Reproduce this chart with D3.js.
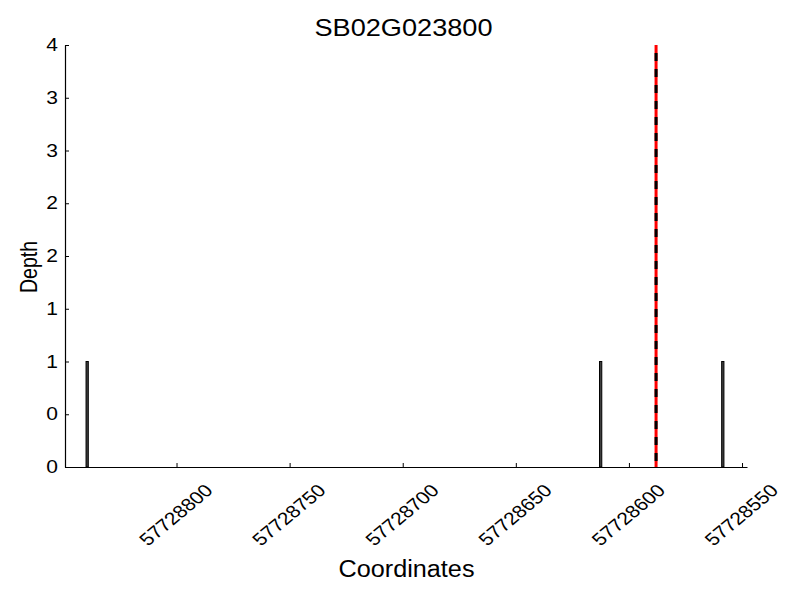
<!DOCTYPE html>
<html>
<head>
<meta charset="utf-8">
<script src="https://cdn.jsdelivr.net/npm/d3@7"></script>
<style>
  body { margin: 0; background: #fff; }
  text { font-family: "Liberation Sans", Arial, sans-serif; fill: #000; }
</style>
</head>
<body>
<svg id="chart" width="800" height="600"></svg>
<script>
const title = "SB02G023800";
const xLabel = "Coordinates";
const yLabel = "Depth";
const xDomain = [57728849.3, 57728547.8];
const yDomain = [0, 4];
const barStarts = [57728839, 57728612, 57728558];
const barDepths = [1, 1, 1];
const barWidthUnits = 1;
const markerPos = [57728588];
const xTicks = [57728800, 57728750, 57728700, 57728650, 57728600, 57728550];
const yTicks = [0, 0.5, 1, 1.5, 2, 2.5, 3, 3.5, 4];
const yTickLabels = ["0", "0", "1", "1", "2", "2", "3", "3", "4"];

const svg = d3.select("#chart");
const L = 65, R = 747, T = 45, B = 467;
const SX = 1.2; // horizontal stretch of the text glyphs
const x = d3.scaleLinear().domain(xDomain).range([L, R]);
const y = d3.scaleLinear().domain(yDomain).range([B, T]);

// bars
svg.append("g").selectAll("rect")
  .data(barStarts.map((s, i) => ({ s, d: barDepths[i] })))
  .join("rect")
  .attr("x", d => Math.min(x(d.s), x(d.s + barWidthUnits)))
  .attr("width", d => Math.abs(x(d.s + barWidthUnits) - x(d.s)))
  .attr("y", d => y(d.d))
  .attr("height", d => y(0) - y(d.d))
  .attr("fill", "#404040")
  .attr("stroke", "#000")
  .attr("stroke-width", 1);

// marker line: red with black dashes
const mk = svg.append("g");
markerPos.forEach(p => {
  mk.append("line").attr("x1", x(p)).attr("x2", x(p)).attr("y1", y(4)).attr("y2", y(0))
    .attr("stroke", "#ff0000").attr("stroke-width", 3);
  mk.append("line").attr("x1", x(p)).attr("x2", x(p)).attr("y1", y(4)).attr("y2", y(0))
    .attr("stroke", "#000").attr("stroke-width", 3)
    .attr("stroke-dasharray", "8,8").attr("stroke-dashoffset", 8);
});

// axes
const xAxis = d3.axisBottom(x).tickValues(xTicks).tickFormat(d3.format("d")).tickSizeInner(-4).tickSizeOuter(0);
const gx = svg.append("g").attr("transform", `translate(0,${B})`).call(xAxis);
gx.select(".domain").attr("stroke", "#000").attr("stroke-width", 1.2);
gx.selectAll(".tick line").attr("stroke", "#000");
gx.selectAll(".tick text")
  .attr("font-size", 17.5)
  .attr("font-family", "Liberation Sans, Arial, sans-serif")
  .attr("text-anchor", "middle")
  .attr("dominant-baseline", "central")
  .attr("dy", null).attr("y", null)
  .attr("transform", `translate(-1,48) scale(${SX},1) rotate(-45)`);

const yAxis = d3.axisLeft(y).tickValues(yTicks).tickFormat((d, i) => yTickLabels[i]).tickSizeInner(-4).tickSizeOuter(0).tickPadding(0);
const gy = svg.append("g").attr("transform", `translate(${L},0)`).call(yAxis);
gy.select(".domain").attr("stroke", "#000").attr("stroke-width", 1.2);
gy.selectAll(".tick line").attr("stroke", "#000");
gy.selectAll(".tick text").attr("font-size", 17.5)
  .attr("font-family", "Liberation Sans, Arial, sans-serif")
  .attr("x", null)
  .attr("transform", `translate(-7,0) scale(${SX},1)`);

// titles
svg.append("text").attr("x", 403.5).attr("y", 36).attr("text-anchor", "middle")
  .attr("font-size", 24).attr("textLength", 178).attr("lengthAdjust", "spacingAndGlyphs").text(title);
svg.append("text").attr("x", 406.5).attr("y", 577).attr("text-anchor", "middle")
  .attr("font-size", 23).attr("textLength", 136).attr("lengthAdjust", "spacingAndGlyphs").text(xLabel);
svg.append("text").attr("transform", `translate(37,267) scale(${SX},1) rotate(-90)`).attr("text-anchor", "middle")
  .attr("font-size", 19.5).text(yLabel);
</script>
</body>
</html>
